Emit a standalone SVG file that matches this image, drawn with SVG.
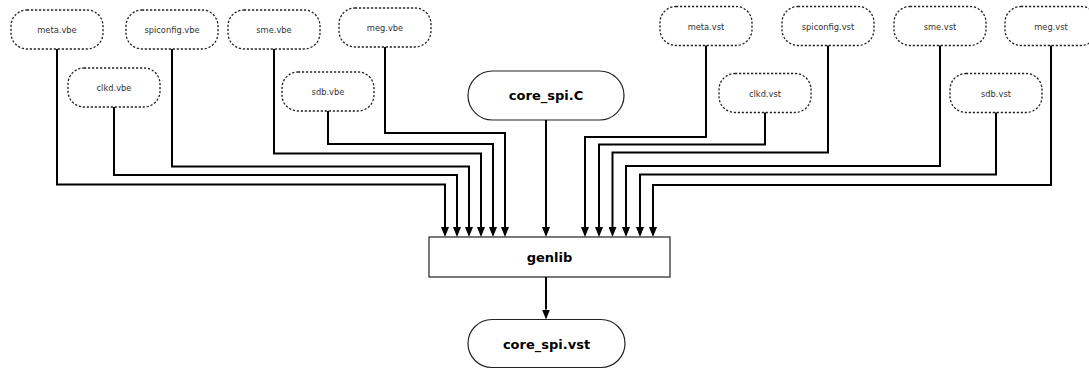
<svg xmlns="http://www.w3.org/2000/svg" width="1089" height="369" viewBox="0 0 1089 369">
<style>
.dn rect{fill:#fff;stroke:#222;stroke-width:1.3;stroke-dasharray:2.2,1.8}
.dn text{font-family:"DejaVu Sans",sans-serif;font-size:8.3px;fill:#333;text-anchor:middle}
.sn rect{fill:#fff;stroke:#222;stroke-width:1.2}
.sn text{font-family:"DejaVu Sans",sans-serif;font-size:13px;font-weight:bold;fill:#000;text-anchor:middle}
.edges path{fill:none;stroke:#000;stroke-width:2;marker-end:url(#arr)}
</style>
<defs>
<marker id="arr" viewBox="0 0 10 8" refX="0" refY="4" markerWidth="10" markerHeight="8" markerUnits="userSpaceOnUse" orient="auto">
<path d="M0,0 L10,4 L0,8 z" fill="#000"/>
</marker>
</defs>
<rect width="1089" height="369" fill="#fff"/>
<g id="meta_vbe" class="dn"><rect x="11" y="10" width="92" height="39" rx="16"/><text x="57" y="33">meta.vbe</text></g>
<g id="spiconfig_vbe" class="dn"><rect x="126" y="10" width="92" height="39" rx="16"/><text x="172" y="33">spiconfig.vbe</text></g>
<g id="sme_vbe" class="dn"><rect x="228" y="10" width="92" height="39" rx="16"/><text x="274" y="33">sme.vbe</text></g>
<g id="meg_vbe" class="dn"><rect x="339" y="8" width="92" height="39" rx="16"/><text x="385" y="31">meg.vbe</text></g>
<g id="clkd_vbe" class="dn"><rect x="68" y="68" width="92" height="39" rx="16"/><text x="114" y="91">clkd.vbe</text></g>
<g id="sdb_vbe" class="dn"><rect x="282" y="72" width="92" height="39" rx="16"/><text x="328" y="95">sdb.vbe</text></g>
<g id="meta_vst" class="dn"><rect x="660" y="6.5" width="92" height="39" rx="16"/><text x="706" y="29.5">meta.vst</text></g>
<g id="spiconfig_vst" class="dn"><rect x="782" y="6.5" width="92" height="39" rx="16"/><text x="828" y="29.5">spiconfig.vst</text></g>
<g id="sme_vst" class="dn"><rect x="894" y="6.5" width="92" height="39" rx="16"/><text x="940" y="29.5">sme.vst</text></g>
<g id="meg_vst" class="dn"><rect x="1005" y="6.5" width="92" height="39" rx="16"/><text x="1051" y="29.5">meg.vst</text></g>
<g id="clkd_vst" class="dn"><rect x="719" y="73.5" width="92" height="39" rx="16"/><text x="765" y="96.5">clkd.vst</text></g>
<g id="sdb_vst" class="dn"><rect x="950" y="73.5" width="92" height="39" rx="16"/><text x="996" y="96.5">sdb.vst</text></g>
<g id="core_spi_C" class="sn"><rect x="468" y="71" width="156" height="49" rx="24.5"/><text x="546" y="100">core_spi.C</text></g>
<g id="genlib" class="sn"><rect x="429" y="237" width="241" height="40"/><text x="549.5" y="262">genlib</text></g>
<g id="core_spi_vst" class="sn"><rect x="468" y="319.5" width="157" height="48" rx="24"/><text x="546.5" y="349">core_spi.vst</text></g>
<g id="connectors" class="edges">
<path d="M57,49 V184.5 H445 V227"/>
<path d="M114,107 V175 H457 V227"/>
<path d="M172,49 V166.5 H469 V227"/>
<path d="M274,49 V153.5 H481 V227"/>
<path d="M328,111 V144 H493 V227"/>
<path d="M385,47 V133 H505 V227"/>
<path d="M546,120 V227"/>
<path d="M706,45.5 V137 H585 V227"/>
<path d="M765,112.5 V144.5 H599 V227"/>
<path d="M828,45.5 V152.5 H612.5 V227"/>
<path d="M940,45.5 V166 H626 V227"/>
<path d="M996,112.5 V174.5 H640 V227"/>
<path d="M1051,45.5 V185 H653 V227"/>
<path d="M546,277 V309.5"/>
</g>
</svg>
